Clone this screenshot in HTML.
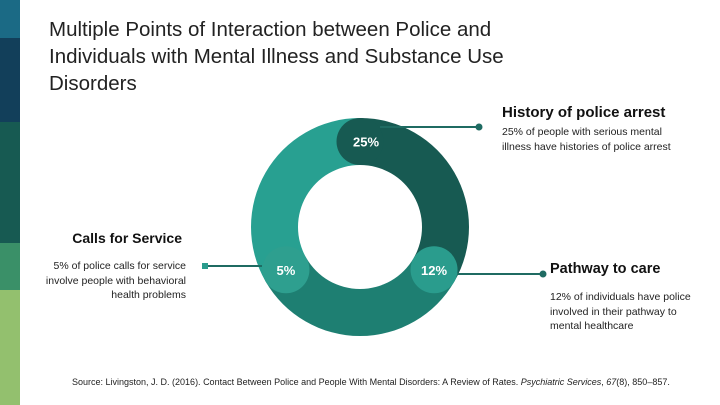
<!DOCTYPE html>
<html><head><meta charset="utf-8"><style>
body{margin:0;width:720px;height:405px;overflow:hidden;background:#fff;font-family:"Liberation Sans",sans-serif;position:relative}
.t{position:absolute;color:#111}
</style></head><body>
<div style="position:absolute;left:0;top:0;width:20px;height:38px;background:#1b6a85"></div>
<div style="position:absolute;left:0;top:38px;width:20px;height:84px;background:#123f5a"></div>
<div style="position:absolute;left:0;top:122px;width:20px;height:121px;background:#175a52"></div>
<div style="position:absolute;left:0;top:243px;width:20px;height:47px;background:#3a9068"></div>
<div style="position:absolute;left:0;top:290px;width:20px;height:115px;background:#93c06e"></div>
<div class="t" style="left:49px;top:16px;font-size:20.5px;line-height:27px;color:#222">Multiple Points of Interaction between Police and<br>Individuals with Mental Illness and Substance Use<br>Disorders</div>
<svg id="c" width="720" height="405" style="position:absolute;left:0;top:0"></svg>
<div class="t" style="left:502px;top:104px;font-size:15px;font-weight:bold">History of police arrest</div>
<div class="t" style="left:502px;top:125px;font-size:10.5px;line-height:15px;color:#222">25% of people with serious mental<br>illness have histories of police arrest</div>
<div class="t" style="left:40px;top:230px;width:142px;text-align:right;font-size:14px;font-weight:bold">Calls for Service</div>
<div class="t" style="left:20px;top:259px;width:166px;text-align:right;font-size:10.5px;line-height:14.5px;color:#222">5% of police calls for service<br>involve people with behavioral<br>health problems</div>
<div class="t" style="left:550px;top:261px;font-size:14.5px;font-weight:bold">Pathway to care</div>
<div class="t" style="left:550px;top:290px;font-size:10.5px;line-height:14.5px;color:#222">12% of individuals have police<br>involved in their pathway to<br>mental healthcare</div>
<div class="t" style="left:72px;top:377px;font-size:9px;color:#222">Source: Livingston, J. D. (2016). Contact Between Police and People With Mental Disorders: A Review of Rates. <i>Psychiatric Services</i>, <i>67</i>(8), 850–857.</div>
<script>
const segNames=['arrest','pathway','calls'];
const segSweeps=[120,120,120];
const segLabels=['25%','12%','5%'];
const segColors=['#175a52','#1e7f72','#28a091'];
const capColors=['#175a52','#2a9c8d','#2e9f8f'];
const cx=360,cy=227,R=109,r=62,mid=85.5;
const svg=document.getElementById('c');const NS='http://www.w3.org/2000/svg';
function pt(a,rad){const t=(a-90)*Math.PI/180;return [cx+rad*Math.cos(t),cy+rad*Math.sin(t)];}
let a0=0;const starts=[];
segSweeps.forEach((s,i)=>{const a1=a0+s;starts.push(a0);
 const [x1,y1]=pt(a0,R),[x2,y2]=pt(a1,R),[x3,y3]=pt(a1,r),[x4,y4]=pt(a0,r);const lg=s>180?1:0;
 const p=document.createElementNS(NS,'path');
 p.setAttribute('d',`M${x1},${y1}A${R},${R} 0 ${lg} 1 ${x2},${y2}L${x3},${y3}A${r},${r} 0 ${lg} 0 ${x4},${y4}Z`);
 p.setAttribute('fill',segColors[i]);
 
 
 svg.appendChild(p);a0=a1;});
function line(x1,y1,x2,y2,nm){const l=document.createElementNS(NS,'line');l.setAttribute('x1',x1);l.setAttribute('y1',y1);l.setAttribute('x2',x2);l.setAttribute('y2',y2);l.setAttribute('stroke','#1f6b62');l.setAttribute('stroke-width','2');
 
 
 svg.appendChild(l);}
line(380,127,479,127,'arrest-connector');line(455,274,543,274,'pathway-connector');line(205,266,262,266,'calls-connector');
[[479,127],[543,274]].forEach((d,i)=>{const c=document.createElementNS(NS,'circle');c.setAttribute('cx',d[0]);c.setAttribute('cy',d[1]);c.setAttribute('r',3.5);c.setAttribute('fill','#1f6b62');
 
 
 svg.appendChild(c);});
const sq=document.createElementNS(NS,'rect');sq.setAttribute('x',202);sq.setAttribute('y',263);sq.setAttribute('width',6);sq.setAttribute('height',6);sq.setAttribute('fill','#2a9c8d');


svg.appendChild(sq);
starts.forEach((a,i)=>{const [x,y]=pt(a,mid);
 const c=document.createElementNS(NS,'circle');c.setAttribute('cx',x);c.setAttribute('cy',y);c.setAttribute('r',23.5);c.setAttribute('fill',capColors[i]);
 
 
 svg.appendChild(c);
 const t=document.createElementNS(NS,'text');t.setAttribute('x',x+(i==0?6:0));t.setAttribute('y',y+5);t.setAttribute('text-anchor','middle');t.setAttribute('fill','#fff');t.setAttribute('font-size','13');t.setAttribute('font-weight','bold');t.setAttribute('font-family','Liberation Sans, sans-serif');t.textContent=segLabels[i];
 
 
 svg.appendChild(t);});
</script>
</body></html>
